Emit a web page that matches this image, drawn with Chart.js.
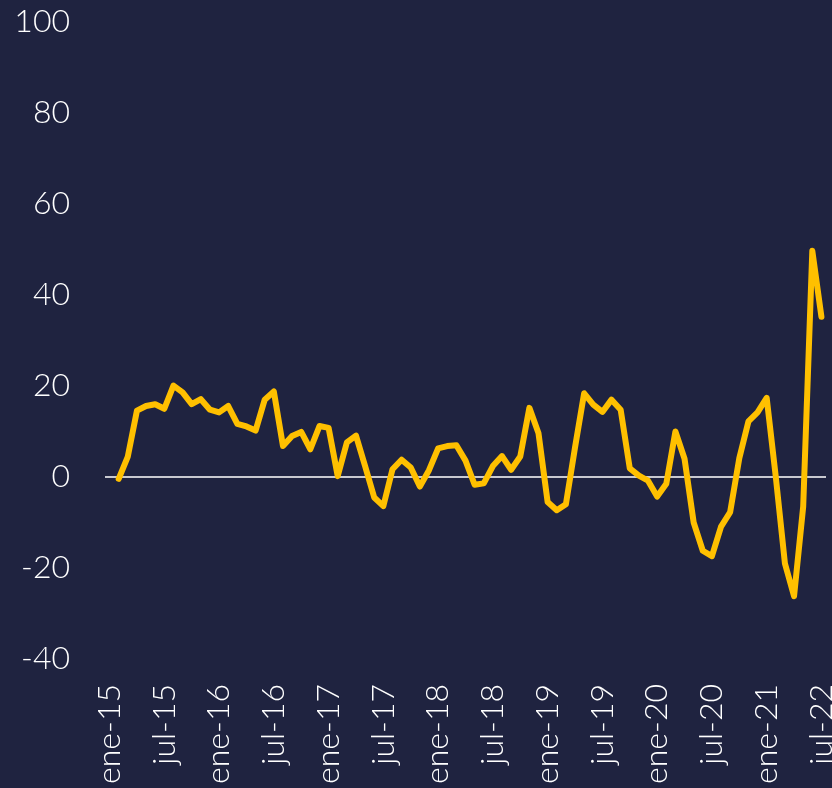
<!DOCTYPE html>
<html>
<head>
<meta charset="utf-8">
<script src="https://cdn.jsdelivr.net/npm/chart.js@4"></script>
<style>
  html, body { margin: 0; padding: 0; background: #1f2340; }
  canvas { display: block; }
</style>
</head>
<body>
<canvas id="myChart" width="832" height="788"></canvas>
<script>
// labels shown on the x axis, one every 6 categories
var tickLabels = ['ene-15', 'jul-15', 'ene-16', 'jul-16', 'ene-17', 'jul-17', 'ene-18',
                  'jul-18', 'ene-19', 'jul-19', 'ene-20', 'jul-20', 'ene-21', 'jul-22'];

// monthly categories (79), first one has no value
var monthNames = ['ene', 'feb', 'mar', 'abr', 'may', 'jun', 'jul', 'ago', 'sep', 'oct', 'nov', 'dic'];
var categories = [];
for (var i = 0; i < 79; i++) {
    categories.push(monthNames[i % 12] + '-' + (15 + Math.floor(i / 12)));
}

// variación (%)
var values = [null,
    -0.4, 4.5, 14.6, 15.6, 16.0, 15.0, 20.1, 18.6, 16.0, 17.1, 14.8, 14.2,
    15.6, 11.7, 11.1, 10.2, 17.0, 18.8, 6.8, 9.0, 9.9, 6.1, 11.2, 10.8,
    0.2, 7.6, 9.1, 2.4, -4.5, -6.4, 1.7, 3.8, 2.1, -2.1, 1.5, 6.3,
    6.8, 7.0, 3.6, -1.7, -1.4, 2.4, 4.6, 1.6, 4.5, 15.2, 9.6, -5.5,
    -7.3, -6.0, 6.5, 18.4, 15.9, 14.3, 17.0, 14.8, 1.9, 0.3, -0.8, -4.3,
    -1.5, 10.0, 4.0, -10.0, -16.2, -17.4, -10.9, -7.7, 4.1, 12.2, 14.2, 17.4,
    0.0, -19.0, -26.2, -6.5, 49.7, 35.2
];

var yTicks = { min: -40, max: 100, step: 20 };

var labelFont = { family: 'Lato', weight: '300', size: 32 };

var ctx = document.getElementById('myChart').getContext('2d');
var chart = new Chart(ctx, {
    type: 'line',
    data: {
        labels: categories,
        datasets: [{
            label: 'Variación',
            data: values,
            borderColor: '#FFC000',
            borderWidth: 6,
            borderCapStyle: 'round',
            borderJoinStyle: 'round',
            pointRadius: 0,
            tension: 0,
            fill: false
        }]
    },
    options: {
        responsive: false,
        animation: false,
        devicePixelRatio: 1,
        layout: { padding: { top: 22, right: 6, left: 0, bottom: 0 } },
        plugins: {
            legend: { display: false },
            tooltip: { enabled: false }
        },
        scales: {
            x: {
                type: 'category',
                offset: true,
                border: { display: false },
                grid: { display: false, drawTicks: false },
                ticks: {
                    autoSkip: false,
                    maxRotation: 90,
                    minRotation: 90,
                    padding: 25,
                    color: '#ffffff',
                    font: labelFont,
                    callback: function (value, index) {
                        return index % 6 === 0 ? tickLabels[index / 6] : null;
                    }
                },
                afterFit: function (scale) {
                    scale.height = 129;
                    scale.paddingLeft = 0;
                    scale.paddingRight = 0;
                }
            },
            y: {
                min: yTicks.min,
                max: yTicks.max,
                border: { display: false },
                grid: {
                    drawTicks: false,
                    lineWidth: 2,
                    color: function (c) {
                        return c.tick && c.tick.value === 0 ? '#c8c9d0' : 'rgba(0,0,0,0)';
                    }
                },
                ticks: {
                    stepSize: yTicks.step,
                    padding: 35,
                    color: '#ffffff',
                    font: labelFont
                },
                afterFit: function (scale) {
                    scale.width = 105;
                    scale.paddingTop = 0;
                    scale.paddingBottom = 0;
                }
            }
        }
    }
});
</script>
</body>
</html>
